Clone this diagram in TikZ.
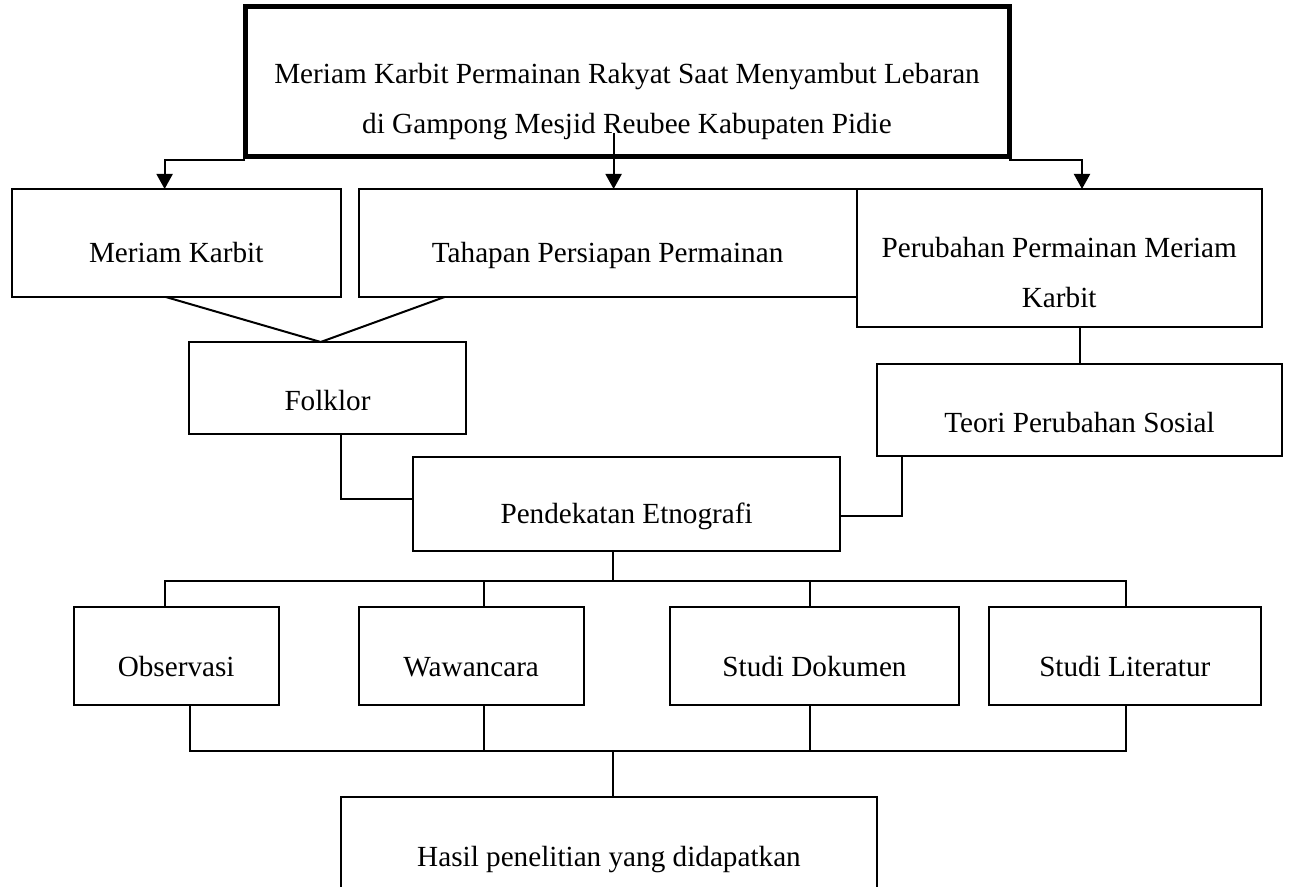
\documentclass[tikz,border=0pt]{standalone}
\usepackage{fontspec}
\setmainfont{Liberation Serif}
\usepackage{tikz}
\usetikzlibrary{arrows.meta}
\newcommand{\boxfont}{\fontsize{14.6}{25}\selectfont}
\newcommand{\heightbox}{54pt}
\newcommand{\heightrow}{49pt}
\tikzset{
    common/.style={draw, rectangle, line width=1pt, inner sep=0pt, outer sep=0pt, align=center, font=\boxfont},
    entry/.style={common, text height=23pt, text depth=3pt},
    lowentry/.style={entry, text height=26pt},
    twoline/.style={common},
    mainbox/.style={twoline, line width=2.5pt},
    link/.style={line width=1pt},
    arrow/.style={link, -{Triangle[width=8pt, length=7.5pt]}}
}
\begin{document}
\begin{tikzpicture}[x=0.5pt, y=-0.5pt]
    \useasboundingbox (0,0) rectangle (1291,887);
    \node[mainbox, minimum width=382pt, minimum height=75pt] (judul) at (627,82)
        {\rule{0pt}{30pt}Meriam Karbit Permainan Rakyat Saat Menyambut Lebaran\\di Gampong Mesjid Reubee Kabupaten Pidie};
    \node[entry, minimum width=164.5pt, minimum height=\heightbox] (meriam) at (176.2,243) {Meriam Karbit};
    \node[entry, minimum width=249pt, minimum height=\heightbox] (tahapan) at (607.6,243) {Tahapan Persiapan Permainan};
    \node[twoline, minimum width=202.4pt, minimum height=69pt] (perubahan) at (1059.2,258)
        {\rule{0pt}{25pt}Perubahan Permainan Meriam\\Karbit};
    \node[lowentry, minimum width=138.5pt, minimum height=46pt] (folklor) at (327.5,388) {Folklor};
    \node[lowentry, minimum width=202.5pt, minimum height=46pt] (teori) at (1079.5,410) {Teori Perubahan Sosial};
    \node[entry, minimum width=213.2pt, minimum height=47pt] (pendekatan) at (626.6,503.7) {Pendekatan Etnografi};
    \node[entry, minimum width=102.4pt, minimum height=\heightrow] (observasi) at (176.2,656) {Observasi};
    \node[entry, minimum width=112.5pt, minimum height=\heightrow] (wawancara) at (471.2,656) {Wawancara};
    \node[entry, minimum width=144.7pt, minimum height=\heightrow] (dokumen) at (814.5,656) {Studi Dokumen};
    \node[entry, minimum width=135.8pt, minimum height=\heightrow] (literatur) at (1124.8,656) {Studi Literatur};
    \node[entry, minimum width=268.2pt, minimum height=\heightrow] (hasil) at (609,846) {Hasil penelitian yang didapatkan};

    \draw[arrow] ([shift={(0,3)}]judul.south west) -| ([shift={(-11.6,0)}]meriam.north);
    \draw[arrow] ([shift={(-13.4,-24)}]judul.south) -- ([shift={(6,0)}]tahapan.north);
    \draw[arrow] ([shift={(0,3)}]judul.south east) -| ([shift={(22.8,0)}]perubahan.north);

    \draw[link] ([shift={(-10.4,0)}]meriam.south) -- ([shift={(-6.8,0)}]folklor.north) -- ([shift={(-163,0)}]tahapan.south);
    \draw[link] ([shift={(13.5,0)}]folklor.south) |- ([shift={(0,-4.4)}]pendekatan.west);
    \draw[link] (teori.north |- perubahan.south) -- (teori.north);
    \draw[link] ([shift={(24.7,0)}]teori.south west) |- ([shift={(0,12.5)}]pendekatan.east);

    \draw[link] ([shift={(-13.8,0)}]pendekatan.south) -- ++(0,30);
    \draw[link] ([shift={(-11.6,0)}]observasi.north) -- ++(0,-26.3) -| ([shift={(1.1,0)}]literatur.north);
    \draw[link] ([shift={(12.6,0)}]wawancara.north) -- ++(0,-26.3);
    \draw[link] ([shift={(-4.5,0)}]dokumen.north) -- ++(0,-26.3);

    \draw[link] ([shift={(13.7,0)}]observasi.south) -- ++(0,45.7) -| ([shift={(1.2,0)}]literatur.south);
    \draw[link] ([shift={(12.6,0)}]wawancara.south) -- ++(0,45.7);
    \draw[link] ([shift={(-4.5,0)}]dokumen.south) -- ++(0,45.7);
    \draw[link] ([shift={(3.8,0)}]hasil.north) -- ++(0,-46);
\end{tikzpicture}
\end{document}
